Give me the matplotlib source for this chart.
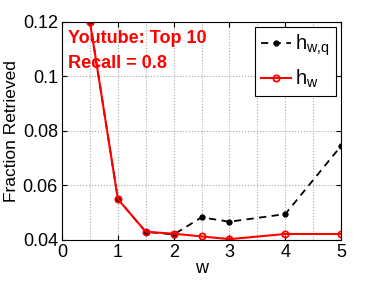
import numpy as np
import matplotlib
matplotlib.use("Agg")
from matplotlib import pyplot as plt

plt.rcParams['font.family'] = ['Liberation Sans', 'DejaVu Sans']
plt.rcParams['mathtext.fontset'] = 'custom'
plt.rcParams['mathtext.rm'] = 'Liberation Sans'
plt.rcParams['mathtext.it'] = 'Liberation Sans'

# data
w = [0.5, 1, 1.5, 2, 2.5, 3, 4, 5]
h_wq = [0.120, 0.055, 0.0430, 0.0420, 0.0483, 0.0467, 0.0495, 0.0745]
h_w = [0.120, 0.055, 0.0430, 0.0423, 0.0413, 0.0403, 0.0422, 0.0422]

fig = plt.figure(figsize=(3.74, 2.81), dpi=100)
ax = fig.add_axes([0.166, 0.146, 0.746, 0.776])

ax.plot(w, h_wq, 'k--', marker='o', ms=3.5, lw=1.3, dashes=(4, 3), label='$\\mathregular{h_{w{,}q}}$')
ax.plot(w, h_w, 'r-', marker='o', ms=4.5, mfc='none', mew=1.3, lw=1.5, label='$\\mathregular{h_w}$')

ax.set_xlim(0, 5)
ax.set_ylim(0.04, 0.12)
ax.set_xticks([0, 1, 2, 3, 4, 5])
ax.set_xticks(np.arange(0, 5.01, 0.5), minor=True)
ax.set_yticks([0.04, 0.06, 0.08, 0.1, 0.12])
ax.set_yticklabels(['0.04', '0.06', '0.08', '0.1', '0.12'])
ax.grid(True, which='both', axis='x', ls=':', color='#aaaaaa', lw=0.8)
ax.grid(True, which='major', axis='y', ls=':', color='#aaaaaa', lw=0.8)
ax.tick_params(which='both', direction='in', top=True, right=True, labelsize=13, pad=3)
ax.tick_params(which='minor', length=0)
for s in ax.spines.values():
    s.set_linewidth(0.8)

ax.set_xlabel('w', fontsize=13, labelpad=-1)
ax.set_ylabel('Fraction Retrieved', fontsize=12.5, labelpad=3)

ax.text(0.02, 0.965, 'Youtube: Top 10', transform=ax.transAxes, color='red',
        fontsize=13, fontweight='bold', va='top')
ax.text(0.02, 0.85, 'Recall = 0.8', transform=ax.transAxes, color='red',
        fontsize=13, fontweight='bold', va='top')

leg = ax.legend(loc='upper right', fontsize=14.5, handlelength=1.5, handletextpad=0.2,
                borderpad=0.3, labelspacing=0.45, fancybox=False, framealpha=1,
                edgecolor='black', borderaxespad=0.25)
leg.get_frame().set_linewidth(0.8)

fig.savefig('out.png', dpi=100)
